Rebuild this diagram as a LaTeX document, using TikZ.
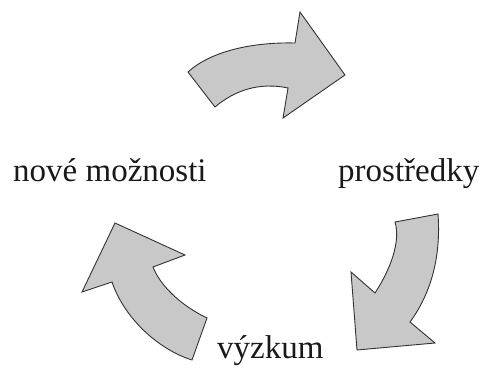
\documentclass[tikz,border=0pt]{standalone}
\usepackage{fontspec}
\setmainfont{Liberation Serif}
\definecolor{arrowfill}{RGB}{200,200,200}
\definecolor{arrowline}{RGB}{50,50,50}
\begin{document}
\begin{tikzpicture}[x=1pt,y=-1pt,
  bigarrow/.style={fill=arrowfill,draw=arrowline,line width=0.9pt,line join=miter},
  lbl/.style={inner sep=0pt,anchor=base west,font=\fontsize{33}{38}\selectfont,text=black!90}]
\useasboundingbox (0,0) rectangle (490,371);
% top arrow
\draw[bigarrow] (188,72) .. controls (210,52) and (250,42) .. (295,43) -- (300,12) -- (345,75) -- (283,118) -- (288,88) .. controls (260,82) and (235,90) .. (215,107) -- cycle;
% right arrow
\draw[bigarrow] (395,222) -- (438,214) .. controls (441,255) and (432,292) .. (410,322) -- (435,343) -- (357,350) -- (351,272) -- (375,293) .. controls (390,270) and (401,242) .. (395,222) -- cycle;
% left arrow
\draw[bigarrow] (192,360) -- (207,318) .. controls (180,305) and (160,285) .. (153,267) -- (185,255) -- (115,223) -- (82,292) -- (112,282) .. controls (125,320) and (160,350) .. (192,360) -- cycle;
\node[lbl] (nove) at (13,182) {nové možnosti};
\node[lbl] (prostr) at (338,182) {prostředky};
\node[lbl] (vyzkum) at (217,359) {výzkum};
\end{tikzpicture}
\end{document}
